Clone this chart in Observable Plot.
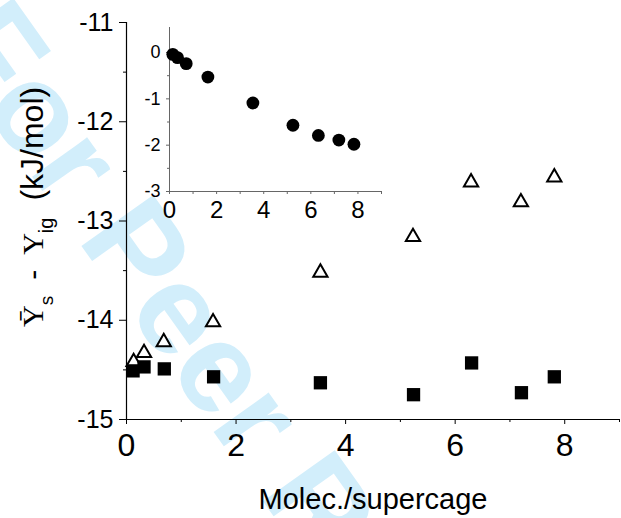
<!DOCTYPE html>
<html><head><meta charset="utf-8">
<script src="https://cdn.jsdelivr.net/npm/d3@7"></script>
<script src="https://cdn.jsdelivr.net/npm/@observablehq/plot@0.6"></script>
<style>
body{margin:0;background:#fff;}
#wrap{position:relative;width:621px;height:518px;overflow:hidden;background:#fff;}
#wrap svg{position:absolute;left:0;top:0;}
</style></head><body><div id="wrap"></div>
<script>
// Main panel: triangles (open) and squares (filled)
const triangleX = [0.13, 0.32, 0.68, 1.58, 3.54, 5.23, 6.29, 7.20, 7.81];
const triangleY = [-14.42, -14.33, -14.22, -14.02, -13.52, -13.16, -12.61, -12.81, -12.56];
const squareX = [0.12, 0.32, 0.69, 1.59, 3.54, 5.24, 6.30, 7.21, 7.81];
const squareY = [-14.51, -14.47, -14.49, -14.57, -14.63, -14.75, -14.43, -14.73, -14.57];
// Inset: filled circles
const insetX = [0.14, 0.34, 0.71, 1.63, 3.54, 5.24, 6.32, 7.19, 7.83];
const insetY = [-0.04, -0.11, -0.24, -0.53, -1.09, -1.57, -1.79, -1.89, -1.98];
// Ticks
const mainXTicks = [0, 2, 4, 6, 8];
const mainXMinor = [1, 3, 5, 7, 9];
const mainYTicks = [-15, -14, -13, -12, -11];
const mainYMinor = [-14.5, -13.5, -12.5, -11.5];
const insetXTicks = [0, 2, 4, 6, 8];
const insetXMinor = [1, 3, 5, 7, 9];
const insetYTicks = [-3, -2, -1, 0];
const insetYMinor = [-2.5, -1.5, -0.5];
const xLabel = "Molec./supercage";
const watermark = "For Peer Review";

const tri = triangleX.map((x, i) => ({x, y: triangleY[i]}));
const sq = squareX.map((x, i) => ({x, y: squareY[i]}));
const ins = insetX.map((x, i) => ({x, y: insetY[i]}));
const fmt = d => String(d);
const blank = () => "";
const FONT = "'Liberation Sans', Arial, sans-serif";
const SERIF = "'Liberation Serif', 'DejaVu Serif', serif";

const main = Plot.plot({
  width: 621, height: 518,
  marginLeft: 126, marginRight: 2, marginTop: 22, marginBottom: 99,
  x: {domain: [0, 9]},
  y: {domain: [-15, -11]},
  style: {fontFamily: FONT, color: "#000", background: "transparent", overflow: "visible"},
  marks: [
    Plot.axisX({ticks: mainXMinor, tickSize: 3, tickFormat: blank, label: null, stroke: "#000"}),
    Plot.axisX({ticks: mainXTicks, tickSize: 5, tickPadding: 9, fontSize: 32, tickFormat: fmt, label: null, stroke: "#000"}),
    Plot.axisY({ticks: mainYMinor, tickSize: 3, tickFormat: blank, label: null, stroke: "#000"}),
    Plot.axisY({ticks: mainYTicks, tickSize: 7, tickPadding: 6, fontSize: 25, tickFormat: fmt, label: null, stroke: "#000"}),
    Plot.ruleY([-15], {stroke: "#000", strokeWidth: 1.2}),
    Plot.ruleX([0], {stroke: "#000", strokeWidth: 1.2}),
    Plot.dot(tri, {x: "x", y: "y", symbol: "triangle", r: 5.3, fill: "#fff", stroke: "#000", strokeWidth: 2}),
    Plot.dot(sq, {x: "x", y: "y", symbol: "square", r: 7.5, fill: "#000"}),
    Plot.text([xLabel], {frameAnchor: "bottom", dy: 80, fontSize: 29, fill: "#000", text: d => d, lineAnchor: "middle"})
  ]
});

const inset = Plot.plot({
  width: 621, height: 518,
  marginLeft: 169, marginRight: 240, marginTop: 27, marginBottom: 327,
  x: {domain: [0, 9]},
  y: {domain: [-3, 0.54]},
  style: {fontFamily: FONT, color: "#000", background: "transparent", overflow: "visible"},
  marks: [
    Plot.axisX({ticks: insetXMinor, tickSize: 3, tickFormat: blank, label: null, stroke: "#666"}),
    Plot.axisX({ticks: insetXTicks, tickSize: 3, tickPadding: 6, fontSize: 24, tickFormat: fmt, label: null, stroke: "#666"}),
    Plot.axisY({ticks: insetYMinor, tickSize: 2, tickFormat: blank, label: null, stroke: "#666"}),
    Plot.axisY({ticks: insetYTicks, tickSize: 3, tickPadding: 6, fontSize: 18, tickFormat: fmt, label: null, stroke: "#666"}),
    Plot.ruleY([-3], {stroke: "#666"}),
    Plot.ruleX([0], {stroke: "#666"}),
    Plot.dot(ins, {x: "x", y: "y", r: 6.4, fill: "#000"})
  ]
});

const wrap = document.getElementById("wrap");
wrap.appendChild(main);
wrap.appendChild(inset);

// watermark behind everything
const ms = d3.select(main);
ms.insert("text", ":first-child")
  .attr("transform", "translate(-27,16) rotate(54.6)")
  .attr("text-anchor", "start")
  .attr("dy", "0.35em")
  .attr("font-family", FONT)
  .attr("font-weight", "bold")
  .attr("font-size", 128)
  .attr("fill", "#d2eefb")
  .text(watermark);

// y-axis title with subscripts
const yt = ms.append("text")
  .attr("transform", "translate(43,327) rotate(-90)")
  .attr("text-anchor", "start")
  .attr("fill", "#000")
  .attr("font-family", FONT)
  .attr("font-size", 30);
yt.append("tspan").attr("font-family", SERIF).attr("font-size", 30).text("\u0232");
yt.append("tspan").attr("font-size", 19).attr("dy", 10).text("s");
yt.append("tspan").attr("dx", 16).attr("dy", -10).text("-");
yt.append("tspan").attr("dx", 15).attr("font-family", SERIF).text("Y");
yt.append("tspan").attr("font-size", 20).attr("dy", 10).text("ig");
yt.append("tspan").attr("dx", 17).attr("dy", -10).attr("font-size", 32).text("(kJ/mol)");
</script>
</body></html>
